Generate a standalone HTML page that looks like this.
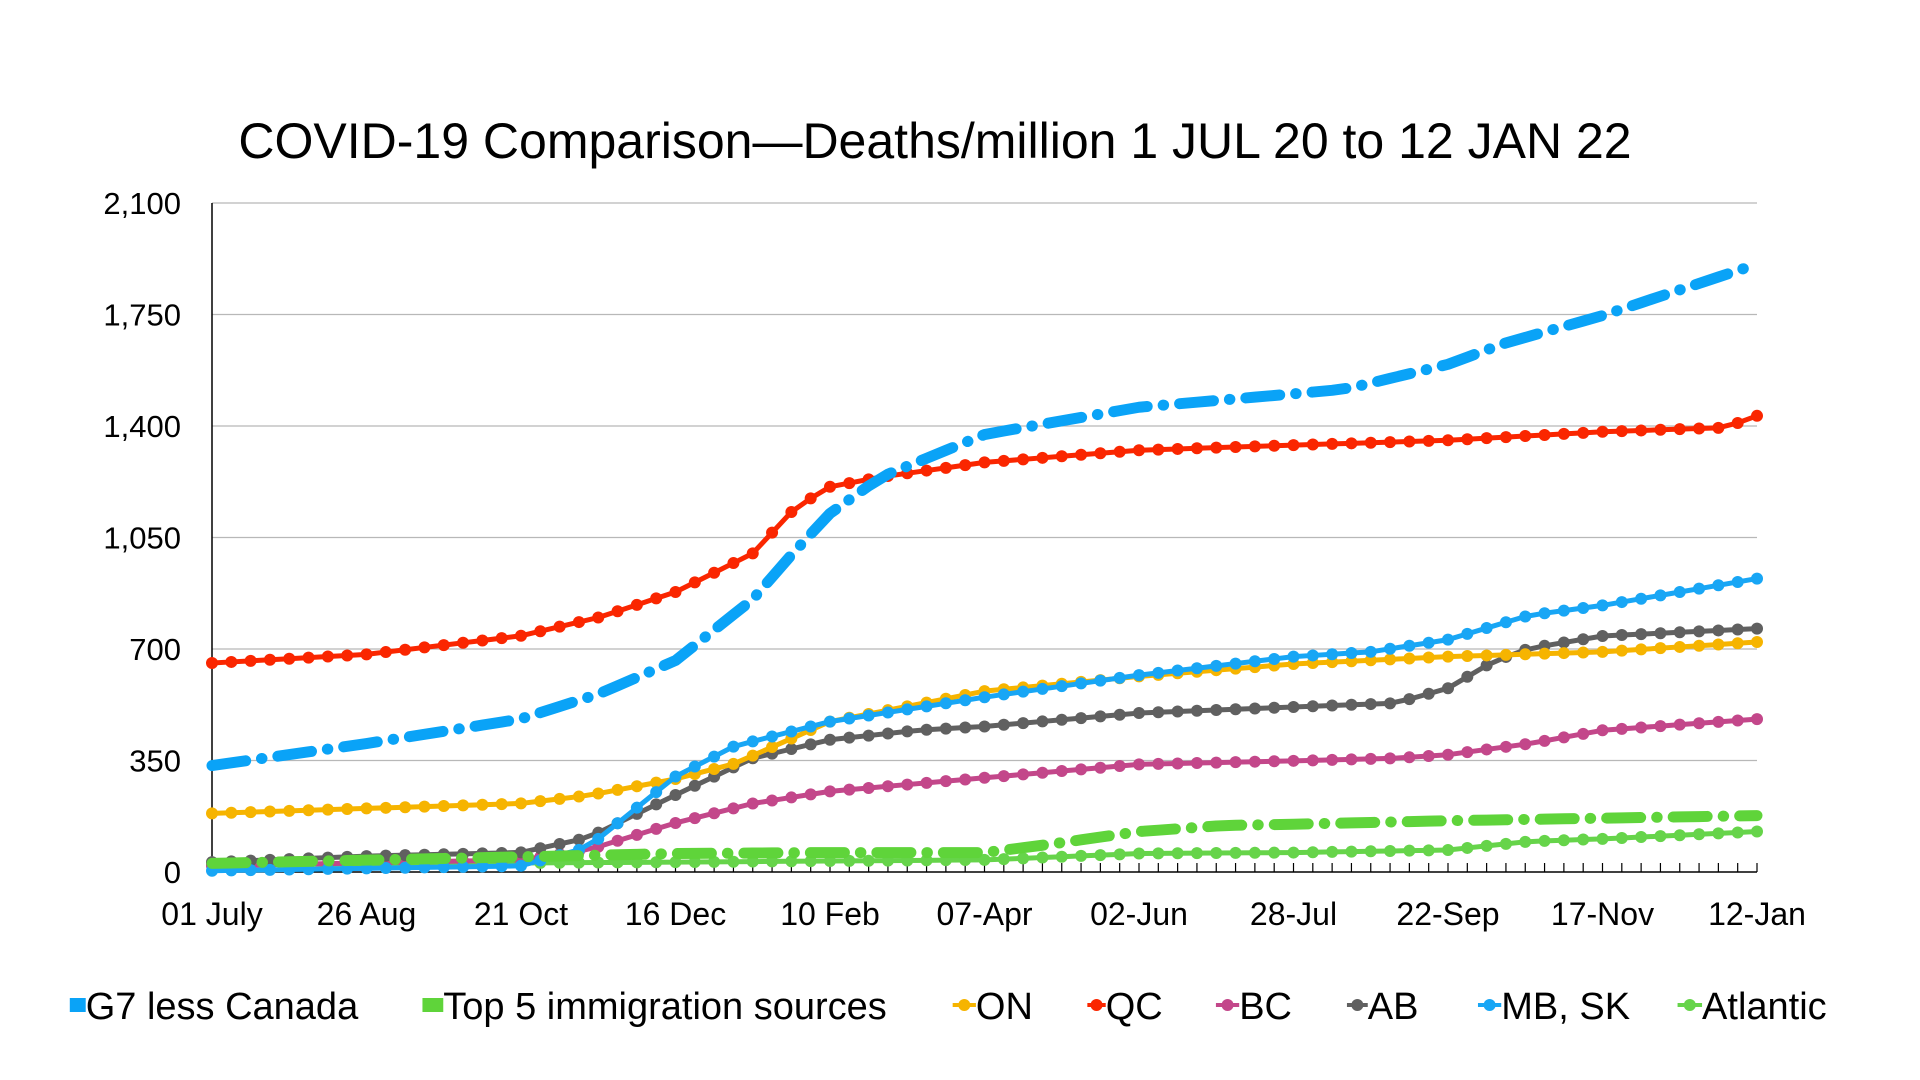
<!DOCTYPE html>
<html><head><meta charset="utf-8"><style>
html,body{margin:0;padding:0;background:#fff;}
svg{display:block;font-family:"Liberation Sans",Arial,sans-serif;}
</style></head><body>
<svg id="s" width="1920" height="1080" xmlns="http://www.w3.org/2000/svg">
<text x="935" y="158" font-size="50" text-anchor="middle">COVID-19 Comparison—Deaths/million 1 JUL 20 to 12 JAN 22</text>
<g id="grid"></g><g id="series"></g><g id="leg"></g>
</svg>
<script>
const S=1.2245;
const L=212,R=1757,T=203,B=872,days=560;
const X=d=>L+(R-L)*d/days, Y=v=>B-(B-T)*v/2100;
let g='';
for(let i=0;i<=6;i++){const v=i*350,y=Y(v);
 if(i>0)g+=`<line x1="${L}" y1="${y}" x2="${R}" y2="${y}" stroke="#b8b8b8" stroke-width="1.3"/>`;
 g+=`<text x="181" y="${y+11}" font-size="31" text-anchor="end">${v.toLocaleString('en-US')}</text>`;}
g+=`<line x1="${L}" y1="${T}" x2="${L}" y2="${B}" stroke="#000" stroke-width="1.5"/>`;
g+=`<line x1="${L}" y1="${B}" x2="${R}" y2="${B}" stroke="#000" stroke-width="1.5"/>`;
for(let d=0;d<=days;d+=7)g+=`<line x1="${X(d)}" y1="${B}" x2="${X(d)}" y2="${B-9}" stroke="#000" stroke-width="1.2"/>`;
const labs=['01 July','26 Aug','21 Oct','16 Dec','10 Feb','07-Apr','02-Jun','28-Jul','22-Sep','17-Nov','12-Jan'];
labs.forEach((t,i)=>g+=`<text x="${X(i*56)}" y="925" font-size="32" text-anchor="middle">${t}</text>`);
document.getElementById('grid').innerHTML=g;
const D={
QC:[[173,656],[299,683],[425,741],[490,800],[552,879],[615,1000],[650,1144],[678,1209],[720,1240],[805,1286],[931,1324],[1057,1340],[1183,1355],[1310,1382],[1410,1395],[1436,1432]],
G7:[[173,334],[299,403],[425,480],[490,560],[552,664],[615,856],[650,1010],[678,1125],[720,1240],[805,1374],[931,1459],[1057,1501],[1100,1516],[1183,1593],[1230,1660],[1310,1747],[1436,1908]],
ON:[[173,184],[425,215],[480,240],[552,292],[600,340],[678,472],[805,568],[931,614],[1057,653],[1183,676],[1310,691],[1436,722]],
MB:[[173,4],[425,19],[480,77],[552,300],[600,395],[678,472],[805,549],[931,618],[1057,676],[1120,691],[1183,729],[1250,806],[1310,837],[1436,921]],
AB:[[173,31],[299,50],[425,61],[480,107],[552,242],[615,357],[678,415],[750,445],[805,457],[931,499],[1057,518],[1140,530],[1183,576],[1220,660],[1250,702],[1310,741],[1436,764]],
BC:[[173,19],[425,38],[480,69],[552,154],[615,215],[678,253],[805,296],[931,338],[1057,349],[1140,357],[1183,368],[1250,403],[1310,445],[1436,480]],
T5:[[173,27],[552,58],[678,61],[805,61],[860,88],[931,127],[1000,146],[1057,150],[1183,161],[1310,169],[1436,177]],
AT:[[173,23],[552,31],[805,38],[931,58],[1057,61],[1183,69],[1250,96],[1310,104],[1436,127]]};
function val(k,d){const px=173+d*(1436-173)/days;for(let i=0;i<k.length-1;i++){if(px<=k[i+1][0]){const t=(px-k[i][0])/(k[i+1][0]-k[i][0]);return k[i][1]+t*(k[i+1][1]-k[i][1]);}}return k[k.length-1][1];}
function pts(k){const p=[];for(let d=0;d<=days;d+=7)p.push([X(d),Y(val(k,d))]);return p;}
let s='';
function thin(k,c){const p=pts(k);s+=`<polyline points="${p.map(q=>q.join(',')).join(' ')}" fill="none" stroke="${c}" stroke-width="5" stroke-linejoin="round"/>`;
 p.forEach(q=>s+=`<circle cx="${q[0]}" cy="${q[1]}" r="6" fill="${c}"/>`);}
function dash(k,c){const p=pts(k);s+=`<polyline points="${p.map(q=>q.join(',')).join(' ')}" fill="none" stroke="${c}" stroke-width="11" stroke-linecap="round" stroke-linejoin="round" stroke-dasharray="34 16 0.5 16"/>`;}
thin(D.AT,'#66d44a');thin(D.BC,'#c3478a');thin(D.AB,'#606060');thin(D.ON,'#f6b400');thin(D.MB,'#18a6f5');
dash(D.T5,'#5fd43a');thin(D.QC,'#fa2600');dash(D.G7,'#0aa3f7');
document.getElementById('series').innerHTML=s;
const leg=[['G7 less Canada','#0aa3f7',57,70,1],['Top 5 immigration sources','#5fd43a',345,362,1],['ON','#f6b400',778,797,0],['QC','#fa2600',888,903,0],['BC','#c3478a',993,1012,0],['AB','#606060',1100,1117,0],['MB, SK','#18a6f5',1207,1226,0],['Atlantic','#66d44a',1370,1390,0]];
let l='';const ly=1005;
leg.forEach(([t,c,mx,tx,sq])=>{const a=mx*S,b=tx*S;
 if(sq)l+=`<rect x="${a}" y="${ly-7}" width="${b-a}" height="14" fill="${c}"/>`;
 else{l+=`<line x1="${a}" y1="${ly}" x2="${b}" y2="${ly}" stroke="${c}" stroke-width="4"/><circle cx="${(a+b)/2}" cy="${ly}" r="6" fill="${c}"/>`;}
 l+=`<text x="${b}" y="${ly+14}" font-size="38">${t}</text>`;});
document.getElementById('leg').innerHTML=l;
</script>
</body></html>
